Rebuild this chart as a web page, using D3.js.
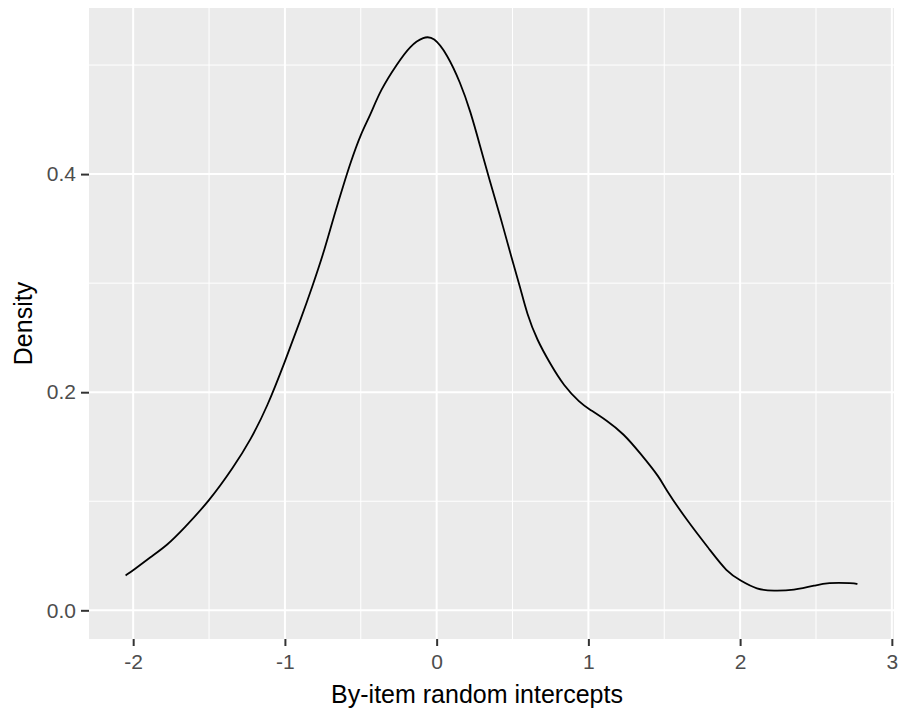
<!DOCTYPE html>
<html>
<head>
<meta charset="utf-8">
<script src="https://cdn.jsdelivr.net/npm/d3@7"></script>
<style>
  body { margin: 0; background: #fff; }
  svg { display: block; font-family: "Liberation Sans", Arial, sans-serif; }
</style>
</head>
<body>
<div id="chart"></div>
<script>
// density estimate of by-item random intercepts
const xs = [-2.05, -2.0, -1.885, -1.776, -1.667, -1.5, -1.338, -1.227, -1.117, -1.0,
  -0.898, -0.821, -0.733, -0.678, -0.612, -0.569, -0.5, -0.437, -0.371, -0.261,
  -0.173, -0.085, -0.02, 0.069, 0.156, 0.222, 0.288, 0.343, 0.42, 0.5,
  0.551, 0.595, 0.661, 0.749, 0.837, 0.947, 1.0, 1.122, 1.232, 1.342,
  1.474, 1.5, 1.649, 1.803, 1.913, 2.0, 2.111, 2.22, 2.352, 2.5,
  2.572, 2.747, 2.773];
const density = [0.032, 0.0367, 0.0489, 0.0596, 0.0749, 0.100, 0.1314, 0.156, 0.1864, 0.228,
  0.266, 0.296, 0.333, 0.361, 0.391, 0.41, 0.437, 0.454, 0.477, 0.501,
  0.518, 0.526, 0.526, 0.510, 0.484, 0.458, 0.425, 0.397, 0.361, 0.320,
  0.296, 0.272, 0.248, 0.226, 0.206, 0.190, 0.185, 0.174, 0.162, 0.144,
  0.121, 0.113, 0.0825, 0.055, 0.0351, 0.0275, 0.019, 0.0177, 0.0183, 0.0229,
  0.0254, 0.025, 0.024];

const xTicks = [-2, -1, 0, 1, 2, 3];
const xMinor = [-1.5, -0.5, 0.5, 1.5, 2.5];
const yTicks = [0, 0.2, 0.4];
const yMinor = [0.1, 0.3, 0.5];

const xLabel = 'By-item random intercepts';
const yLabel = 'Density';

const width = 899, height = 713;
const margin = {top: 8, right: 5, bottom: 74, left: 89};

const points = xs.map((x, i) => ({x: x, y: density[i]}));

// ggplot style 5% expansion
const xExt = d3.extent(xs), xPad = (xExt[1] - xExt[0]) * 0.05;
const yMax = d3.max(density), yPad = yMax * 0.05;

const x = d3.scaleLinear()
  .domain([xExt[0] - xPad, xExt[1] + xPad])
  .range([margin.left, width - margin.right]);
const y = d3.scaleLinear()
  .domain([-yPad, yMax + yPad])
  .range([height - margin.bottom, margin.top]);

const svg = d3.select('#chart')
  .append('svg')
    .attr('width', width)
    .attr('height', height);

svg.append('rect')
    .attr('x', margin.left)
    .attr('y', margin.top)
    .attr('width', width - margin.left - margin.right)
    .attr('height', height - margin.top - margin.bottom)
    .attr('fill', '#ebebeb');

// grid lines
const grid = svg.append('g');
grid.selectAll('.xminor').data(xMinor).join('line')
    .attr('x1', d => x(d)).attr('x2', d => x(d))
    .attr('y1', margin.top).attr('y2', height - margin.bottom)
    .attr('stroke', '#fff').attr('stroke-width', 1);
grid.selectAll('.yminor').data(yMinor).join('line')
    .attr('y1', d => y(d)).attr('y2', d => y(d))
    .attr('x1', margin.left).attr('x2', width - margin.right)
    .attr('stroke', '#fff').attr('stroke-width', 1);
grid.selectAll('.xmajor').data(xTicks).join('line')
    .attr('x1', d => x(d)).attr('x2', d => x(d))
    .attr('y1', margin.top).attr('y2', height - margin.bottom)
    .attr('stroke', '#fff').attr('stroke-width', 2);
grid.selectAll('.ymajor').data(yTicks).join('line')
    .attr('y1', d => y(d)).attr('y2', d => y(d))
    .attr('x1', margin.left).attr('x2', width - margin.right)
    .attr('stroke', '#fff').attr('stroke-width', 2);

// density curve
const line = d3.line()
  .x(d => x(d.x))
  .y(d => y(d.y))
  .curve(d3.curveBasis);

svg.append('path')
    .datum(points)
    .attr('d', line)
    .attr('fill', 'none')
    .attr('stroke', '#000')
    .attr('stroke-width', 1.8);

// axes
const xAxis = svg.append('g')
    .attr('transform', `translate(0,${height - margin.bottom})`)
    .call(d3.axisBottom(x).tickValues(xTicks).tickFormat(d => String(d)).tickSize(7).tickPadding(8));
const yAxis = svg.append('g')
    .attr('transform', `translate(${margin.left},0)`)
    .call(d3.axisLeft(y).tickValues(yTicks).tickFormat(d3.format('.1f')).tickSize(8).tickPadding(5));

[xAxis, yAxis].forEach(g => {
  g.select('.domain').remove();
  g.selectAll('.tick line').attr('stroke', '#333').attr('stroke-width', 2);
  g.selectAll('.tick text')
      .attr('fill', '#4d4d4d')
      .attr('font-size', '21px')
      .attr('font-family', '"Liberation Sans", Arial, sans-serif');
});

svg.append('text')
    .attr('x', 477)
    .attr('y', 703)
    .attr('text-anchor', 'middle')
    .attr('font-size', '25px')
    .attr('fill', '#000')
    .text(xLabel);

svg.append('text')
    .attr('transform', `translate(32,${(margin.top + height - margin.bottom) / 2}) rotate(-90)`)
    .attr('text-anchor', 'middle')
    .attr('font-size', '25px')
    .attr('fill', '#000')
    .text(yLabel);
</script>
</body>
</html>
